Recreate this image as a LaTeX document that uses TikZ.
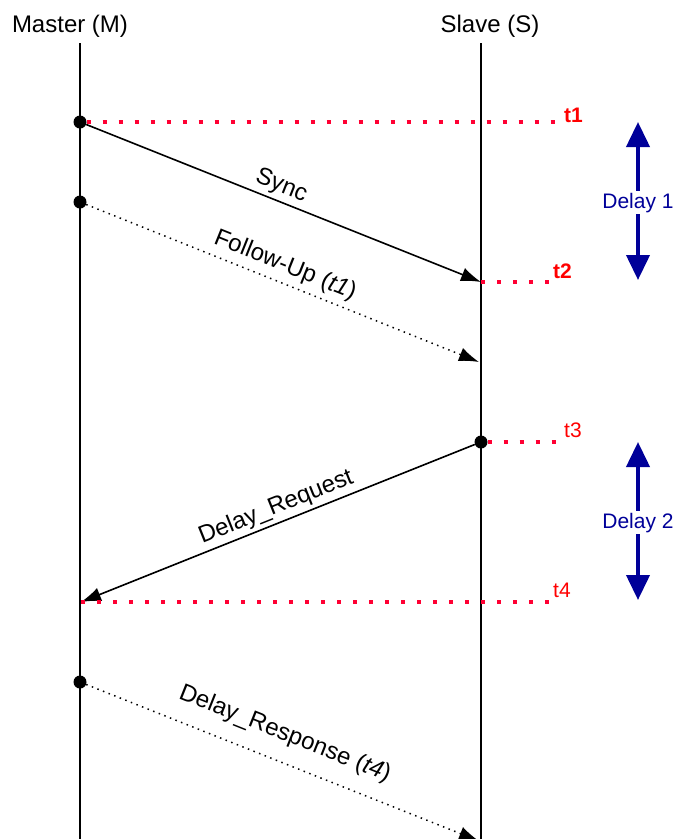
\documentclass[tikz,border=0pt]{standalone}
\usepackage{fontspec}
\setmainfont{Liberation Sans}
\usepackage{tikz}
\usetikzlibrary{positioning,arrows.meta}
\definecolor{stampred}{RGB}{255,0,0}
\definecolor{stampdot}{RGB}{255,0,51}
\definecolor{delayblue}{RGB}{0,0,153}
\tikzstyle{header}=[anchor=base, inner sep=0, font=\fontsize{24}{28}\selectfont]
\tikzstyle{lane}=[draw=black, line width=1.6pt]
\tikzstyle{event}=[circle, fill=black, inner sep=0, minimum size=13pt]
\tikzstyle{msg}=[draw=black, line width=1.6pt, ->]
\tikzstyle{info}=[draw=black, line width=1.5pt, dash pattern=on 1.5pt off 4.5pt, ->]
\tikzstyle{msglabel}=[font=\fontsize{24}{28}\selectfont, text=black]
\tikzstyle{stamp}=[draw=stampdot, line width=4pt, dash pattern=on 4pt off 12pt]
\tikzstyle{stamplabel}=[anchor=base west, inner sep=1pt, text=stampred, font=\fontsize{21}{25}\selectfont]
\tikzstyle{stampbold}=[stamplabel, font=\fontsize{21}{25}\selectfont\bfseries]
\tikzstyle{delay}=[draw=delayblue, line width=4pt, {Triangle[length=25pt,width=23pt]}-{Triangle[length=25pt,width=23pt]}]
\tikzstyle{delaylabel}=[fill=white, inner sep=2pt, text=delayblue, font=\fontsize{21}{25}\selectfont]
\tikzset{>={Latex[length=20pt,width=14pt]}}

\begin{document}
\begin{tikzpicture}[x=1pt, y=-1pt]
    \useasboundingbox (0,0) rectangle (678,839);

    % the two clocks
    \node(master)[header] at (70,32) {Master (M)};
    \node(slave)[header] at (490,32) {Slave (S)};
    \coordinate (mtop) at (80,43);
    \coordinate (mbot) at (80,839);
    \coordinate (stop) at (481,43);
    \coordinate (sbot) at (481,839);
    \draw[lane] (mtop) -- (mbot);
    \draw[lane] (stop) -- (sbot);

    % send and receive points
    \node(m1)[event] at (80,122) {};
    \node(mf)[event] at (80,202) {};
    \node(s3)[event] at (481,442) {};
    \node(mr)[event] at (80,682) {};
    \coordinate (s2) at (481,282);
    \coordinate (sf) at (479,362);
    \coordinate (m4) at (81,602);
    \coordinate (sr) at (479,841);

    % messages
    \draw[msg] (m1) -- (s2) node[msglabel, pos=0.48, sloped, above] {Sync};
    \draw[info] (mf) -- (sf) node[msglabel, pos=0.49, sloped, above=2pt] {Follow-Up (\textit{t1})};
    \draw[msg] (s3) -- (m4) node[msglabel, pos=0.49, sloped, above] {Delay\_Request};
    \draw[info] (mr) -- (sr) node[msglabel, pos=0.48, sloped, above=12pt] {Delay\_Response (\textit{t4})};

    % timestamps
    \node(t1)[stampbold] at (563,122) {t1};
    \node(t2)[stampbold] at (552,278) {t2};
    \node(t3)[stamplabel] at (563,437) {t3};
    \node(t4)[stamplabel] at (552,597) {t4};
    \draw[stamp] (m1) -- (m1 -| t1.west);
    \draw[stamp] (s2) -- (s2 -| t2.west);
    \draw[stamp] (s3) -- (s3 -| t3.west);
    \draw[stamp] (m4) -- (m4 -| t4.west);

    % delays
    \coordinate (d1top) at (638,122);
    \coordinate (d1bot) at (638,280);
    \coordinate (d2top) at (638,442);
    \coordinate (d2bot) at (638,600);
    \draw[delay] (d1top) -- (d1bot) node(delay1)[delaylabel, pos=0.51] {Delay 1};
    \draw[delay] (d2top) -- (d2bot) node(delay2)[delaylabel, pos=0.51] {Delay 2};

\end{tikzpicture}
\end{document}
